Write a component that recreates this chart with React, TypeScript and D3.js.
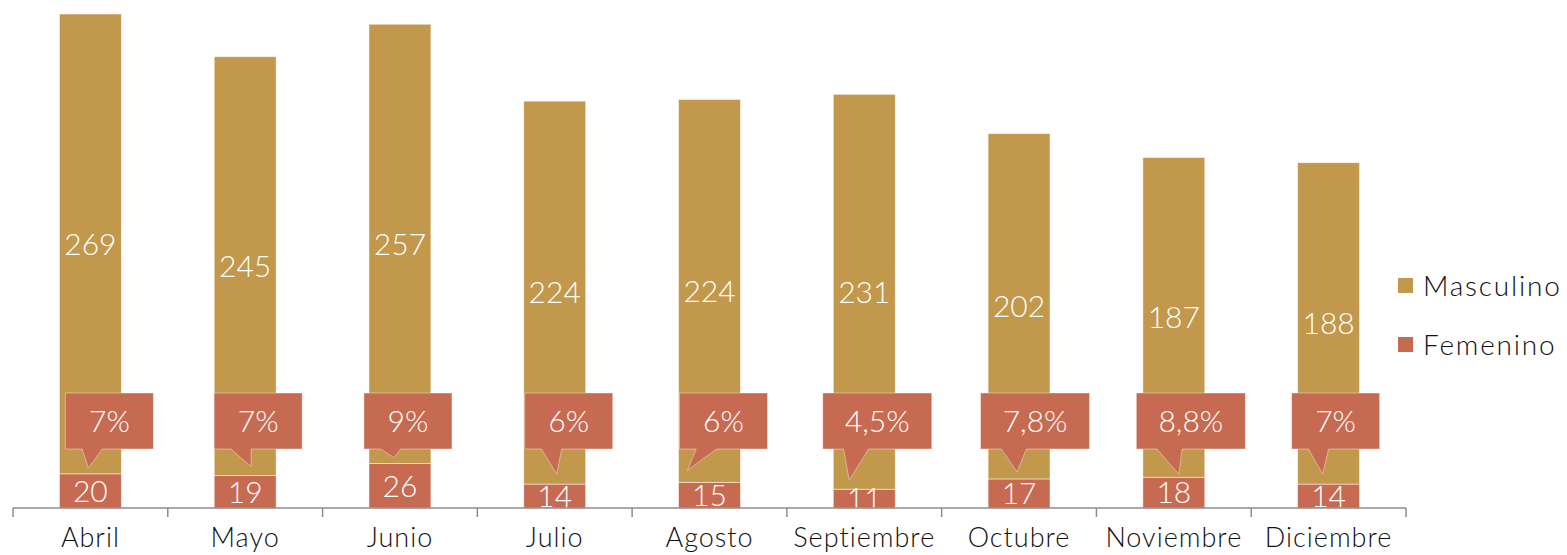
import React, { useEffect, useRef } from "react";
import * as d3 from "d3";

const months = ["Abril", "Mayo", "Junio", "Julio", "Agosto", "Septiembre", "Octubre", "Noviembre", "Diciembre"];
const masculino = [269, 245, 257, 224, 224, 231, 202, 187, 188];
const femenino = [20, 19, 26, 14, 15, 11, 17, 18, 14];
const pctLabels = ["7%", "7%", "9%", "6%", "6%", "4,5%", "7,8%", "8,8%", "7%"];

// callout placement (box center offset from bar center, tip offset from bar center, tip offset above femenino top)
const calloutLayout = [
  { dx: 19, tipDx: -2, tipDy: 6 },
  { dx: 13, tipDx: 6, tipDy: 9 },
  { dx: 8, tipDx: -6, tipDy: 6 },
  { dx: 14, tipDx: 2, tipDy: 10 },
  { dx: 14, tipDx: -22, tipDy: 12 },
  { dx: 13, tipDx: -15, tipDy: 9 },
  { dx: 16, tipDx: -2, tipDy: 7 },
  { dx: 17, tipDx: 5, tipDy: 3 },
  { dx: 7, tipDx: -6, tipDy: 10 },
];

const GOLD = "#C1984C";
const RED = "#C66A52";
const FONT = "Lato, 'Open Sans', sans-serif";

const W = 1567;
const H = 555;

const App: React.FC = () => {
  const ref = useRef<SVGSVGElement | null>(null);

  useEffect(() => {
    if (!ref.current) return;
    const svg = d3.select(ref.current);
    svg.selectAll("*").remove();

    const left = 13;
    const right = 1406;
    const baseY = 508;

    const totals = masculino.map((m, i) => m + femenino[i]);
    const x = d3.scaleBand<string>()
      .domain(months)
      .range([left, right])
      .paddingInner(0.6)
      .paddingOuter(0.3);
    const y = d3.scaleLinear()
      .domain([0, d3.max(totals) || 1])
      .range([baseY, 14]);

    svg.append("defs").append("clipPath").attr("id", "plot-clip")
      .append("rect").attr("x", 0).attr("y", 0).attr("width", right + 10).attr("height", baseY);

    const plot = svg.append("g").attr("clip-path", "url(#plot-clip)");

    // femenino (bottom)
    plot.selectAll(".fem")
      .data(months)
      .enter()
      .append("rect")
      .attr("x", d => x(d)!)
      .attr("width", x.bandwidth())
      .attr("y", (_, i) => y(femenino[i]))
      .attr("height", (_, i) => baseY - y(femenino[i]))
      .attr("fill", RED)
      .attr("stroke", "#fff")
      .attr("stroke-opacity", 0.6)
      .attr("stroke-width", 0.8);

    // masculino (stacked)
    plot.selectAll(".masc")
      .data(months)
      .enter()
      .append("rect")
      .attr("x", d => x(d)!)
      .attr("width", x.bandwidth())
      .attr("y", (_, i) => y(totals[i]))
      .attr("height", (_, i) => y(femenino[i]) - y(totals[i]))
      .attr("fill", GOLD)
      .attr("stroke", "#fff")
      .attr("stroke-opacity", 0.6)
      .attr("stroke-width", 0.8);

    const cx = (d: string) => x(d)! + x.bandwidth() / 2;

    plot.selectAll(".mlabel")
      .data(months)
      .enter()
      .append("text")
      .attr("x", d => cx(d))
      .attr("y", (_, i) => (y(totals[i]) + y(femenino[i])) / 2)
      .attr("dy", "0.36em")
      .attr("text-anchor", "middle")
      .attr("fill", "#fff")
      .style("font-family", FONT)
      .style("font-weight", 300)
      .style("font-size", "30px")
      .text((_, i) => masculino[i]);

    plot.selectAll(".flabel")
      .data(months)
      .enter()
      .append("text")
      .attr("x", d => cx(d))
      .attr("y", (_, i) => (baseY + y(femenino[i])) / 2)
      .attr("dy", "0.36em")
      .attr("text-anchor", "middle")
      .attr("fill", "#fff")
      .style("font-family", FONT)
      .style("font-weight", 300)
      .style("font-size", "30px")
      .text((_, i) => femenino[i]);

    // callouts
    const boxTop = 393;
    const boxH = 56;
    months.forEach((m, i) => {
      const lay = calloutLayout[i];
      const w = pctLabels[i].length > 2 ? 109 : 88;
      const bx = cx(m) + lay.dx - w / 2;
      const bottom = boxTop + boxH;
      const b0 = bx + w * 0.19;
      const b1 = bx + w * 0.42;
      const tipX = cx(m) + lay.tipDx;
      const tipY = y(femenino[i]) - lay.tipDy;
      const path = d3.path();
      path.moveTo(bx, boxTop);
      path.lineTo(bx + w, boxTop);
      path.lineTo(bx + w, bottom);
      path.lineTo(b1, bottom);
      path.lineTo(tipX, tipY);
      path.lineTo(b0, bottom);
      path.lineTo(bx, bottom);
      path.closePath();
      svg.append("path")
        .attr("d", path.toString())
        .attr("fill", RED)
        .attr("stroke", "#fff")
        .attr("stroke-opacity", 0.5)
        .attr("stroke-width", 0.8);
      svg.append("text")
        .attr("x", bx + w / 2)
        .attr("y", boxTop + boxH / 2)
        .attr("dy", "0.36em")
        .attr("text-anchor", "middle")
        .attr("fill", "#fff")
        .style("font-family", FONT)
        .style("font-weight", 300)
        .style("font-size", "30px")
        .text(pctLabels[i]);
    });

    // x axis
    const axis = svg.append("g");
    axis.append("line")
      .attr("x1", left).attr("x2", right)
      .attr("y1", baseY).attr("y2", baseY)
      .attr("stroke", "#8c8c8c").attr("stroke-width", 1.5);
    const step = x.step();
    axis.selectAll(".tick")
      .data(d3.range(months.length + 1))
      .enter()
      .append("line")
      .attr("x1", d => left + d * step)
      .attr("x2", d => left + d * step)
      .attr("y1", baseY)
      .attr("y2", baseY + 9)
      .attr("stroke", "#8c8c8c")
      .attr("stroke-width", 1.5);
    axis.selectAll(".xlabel")
      .data(months)
      .enter()
      .append("text")
      .attr("x", d => cx(d))
      .attr("y", 547)
      .attr("text-anchor", "middle")
      .attr("fill", "#111")
      .style("font-family", FONT)
      .style("font-weight", 300)
      .style("font-size", "27px")
      .style("letter-spacing", "1px")
      .text(d => d);

    // legend
    const legend = [
      { name: "Masculino", color: GOLD, y: 278 },
      { name: "Femenino", color: RED, y: 337 },
    ];
    const lg = svg.append("g");
    legend.forEach(l => {
      lg.append("rect")
        .attr("x", 1398).attr("y", l.y)
        .attr("width", 15).attr("height", 15)
        .attr("fill", l.color);
      lg.append("text")
        .attr("x", 1423).attr("y", l.y + 7.5)
        .attr("dy", "0.36em")
        .attr("fill", "#111")
        .style("font-family", FONT)
        .style("font-weight", 300)
        .style("font-size", "28px")
        .style("letter-spacing", "1.8px")
        .text(l.name);
    });
  }, []);

  return (
    <div style={{ position: "absolute", left: 0, top: 0 }}>
      <svg ref={ref} width={W} height={H} style={{ display: "block", background: "#fff" }} />
    </div>
  );
};

export default App;
